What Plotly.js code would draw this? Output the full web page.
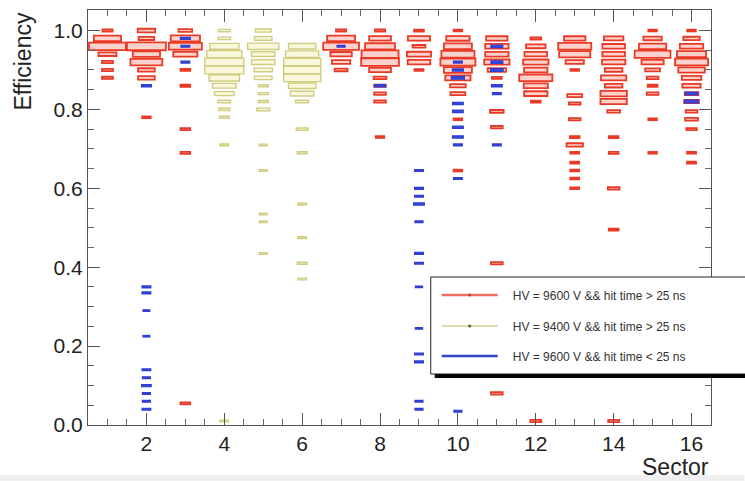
<!DOCTYPE html>
<html><head><meta charset="utf-8">
<script src="https://cdn.plot.ly/plotly-3.0.1.min.js"></script>
<style>html,body{margin:0;padding:0;background:#fff;}#chart{width:745px;height:481px;}</style>
</head><body><div id="chart"></div>
<script>
// ---- data ----
const sectors = [1,2,3,4,5,6,7,8,9,10,11,12,13,14,15,16];
const xTickVals = [2,4,6,8,10,12,14,16];
const yTickVals = [0,0.2,0.4,0.6,0.8,1.0];
const seriesNames = ["HV = 9600 V && hit time > 25 ns","HV = 9400 V && hit time > 25 ns","HV = 9600 V && hit time < 25 ns"];

// HV = 9600 V, hit time > 25 ns : efficiency bin centres and relative bin content per sector
const redEff = [
  [1.00,0.98,0.96,0.94,0.92,0.90,0.88],
  [1.00,0.98,0.96,0.94,0.92,0.90,0.88,0.78],
  [1.00,0.98,0.96,0.94,0.90,0.86,0.75,0.69,0.055],
  [], [], [],
  [1.00,0.98,0.96,0.94,0.92,0.90],
  [1.00,0.98,0.96,0.94,0.92,0.90,0.88,0.86,0.84,0.82,0.73],
  [1.00,0.98,0.96,0.94,0.92,0.90],
  [1.00,0.98,0.96,0.94,0.92,0.90,0.88,0.86,0.84,0.775,0.645],
  [0.98,0.96,0.94,0.92,0.90,0.88,0.795,0.755,0.41,0.08],
  [0.98,0.96,0.94,0.92,0.90,0.88,0.86,0.84,0.82,0.01],
  [0.98,0.96,0.94,0.92,0.90,0.835,0.815,0.775,0.73,0.71,0.69,0.665,0.645,0.625,0.60],
  [0.98,0.96,0.94,0.92,0.90,0.88,0.86,0.84,0.82,0.795,0.73,0.69,0.60,0.495,0.01],
  [1.00,0.98,0.96,0.94,0.92,0.90,0.88,0.86,0.84,0.775,0.69],
  [1.00,0.98,0.96,0.94,0.92,0.90,0.88,0.86,0.84,0.82,0.795,0.775,0.75,0.69,0.665]
];
const redContent = [
  [.26,.70,.95,.46,.28,.28,.28],
  [.45,.40,1.0,.70,.82,.43,.43,.22],
  [.35,.75,.85,.62,.25,.25,.25,.25,.25],
  [], [], [],
  [.26,.72,.92,.55,.47,.33],
  [.26,.56,.77,.95,.97,.56,.33,.30,.30,.30,.22],
  [.25,.57,.33,.62,.58,.23],
  [.22,.60,.72,.85,.90,.72,.65,.40,.38,.22,.22],
  [.55,.60,.60,.65,.47,.25,.35,.30,.30,.30],
  [.28,.50,.58,.65,.60,.85,.62,.60,.25,.28],
  [.55,.85,.80,.47,.22,.38,.30,.30,.25,.42,.23,.23,.23,.23,.23],
  [.50,.58,.58,.60,.45,.65,.45,.68,.68,.33,.25,.25,.30,.25,.28],
  [.22,.47,.70,.92,.57,.38,.30,.25,.30,.22,.22],
  [.22,.42,.60,.75,.85,.68,.50,.47,.35,.38,.30,.33,.27,.23,.23]
];

// HV = 9400 V, hit time > 25 ns
const yellowEff = [
  [], [], [],
  [1.00,0.98,0.96,0.94,0.92,0.90,0.88,0.86,0.84,0.82,0.80,0.78,0.71,0.01],
  [1.00,0.98,0.96,0.94,0.92,0.90,0.88,0.86,0.84,0.82,0.80,0.71,0.645,0.535,0.515,0.435],
  [0.96,0.94,0.92,0.90,0.88,0.86,0.84,0.82,0.75,0.69,0.56,0.475,0.41,0.37],
  [], [], [], [], [], [], [], [], [], []
];
const yellowContent = [
  [], [], [],
  [.30,.32,.75,.90,1.0,1.0,.78,.60,.50,.32,.28,.25,.22,.22],
  [.40,.45,.80,.60,.60,.47,.45,.25,.25,.25,.33,.20,.20,.20,.20,.20],
  [.70,.85,.95,.95,.95,.70,.60,.33,.30,.25,.22,.22,.25,.22],
  [], [], [], [], [], [], [], [], [], []
];

// HV = 9600 V, hit time < 25 ns
const blueEff = [
  [],
  [0.86,0.35,0.335,0.29,0.225,0.14,0.12,0.10,0.08,0.06,0.04],
  [0.98,0.96,0.92],
  [], [], [],
  [0.96],
  [0.86],
  [0.645,0.60,0.58,0.56,0.515,0.435,0.41,0.35,0.245,0.18,0.16,0.06,0.04],
  [0.92,0.90,0.88,0.815,0.795,0.755,0.73,0.71,0.625,0.035],
  [0.96,0.92,0.90,0.86,0.84,0.71],
  [], [], [], [],
  [0.84,0.82]
];
const blueContent = [
  [],
  [.25,.22,.22,.17,.17,.22,.20,.24,.20,.20,.22],
  [.25,.22,.22],
  [], [], [],
  [.20],
  [.28],
  [.22,.22,.22,.27,.20,.22,.22,.18,.18,.22,.22,.20,.20],
  [.22,.28,.33,.27,.27,.27,.27,.22,.22,.20],
  [.30,.30,.32,.27,.22,.22],
  [], [], [], [],
  [.32,.35]
];

// ---- styling / geometry constants ----
const BIN_X = 1.0, BIN_Y = 0.02;
const RED = 'rgb(232,58,38)', RED_FILL = 'rgba(246,140,120,0.38)';
const YEL = 'rgb(208,204,128)', YEL_FILL = 'rgba(246,244,196,0.6)';
const BLUE = 'rgb(45,62,212)', BLUE_FILL = 'rgba(45,62,212,0.9)';
const FONT = 'Liberation Sans, Arial, Helvetica, sans-serif';

function boxTrace(effs, contents, line, fill, lw) {
  const x = [], base = [], h = [], w = [];
  sectors.forEach((s, i) => {
    effs[i].forEach((e, j) => {
      const c = contents[i][j];
      x.push(s); w.push(c * BIN_X); h.push(c * BIN_Y); base.push(e - c * BIN_Y / 2);
    });
  });
  return {type: 'bar', x: x, y: h, base: base, width: w, orientation: 'v',
    marker: {color: fill, line: {color: line, width: lw}}, showlegend: false, hoverinfo: 'skip'};
}

const L = 88, R = 711.5, T = 10, B = 425, W = 745, H = 481;
const px = v => (v - L) / (R - L);
const py = v => (B - v) / (B - T);
const NB = '\u00a0\u00a0\u00a0';

const data = [
  boxTrace(redEff, redContent, RED, RED_FILL, 1.8),
  boxTrace(yellowEff, yellowContent, YEL, YEL_FILL, 1.4),
  boxTrace(blueEff, blueContent, BLUE, BLUE_FILL, 1.4),
  {type: 'scatter', mode: 'lines+markers', x: [null], y: [null], name: NB + seriesNames[0],
   line: {color: 'rgb(238,110,95)', width: 2.5}, marker: {color: 'rgb(200,60,50)', size: 3}, legend: 'legend'},
  {type: 'scatter', mode: 'lines+markers', x: [null], y: [null], name: NB + seriesNames[1],
   line: {color: 'rgb(222,220,170)', width: 2}, marker: {color: 'rgb(90,90,60)', size: 3}, legend: 'legend2'},
  {type: 'scatter', mode: 'lines', x: [null], y: [null], name: NB + seriesNames[2],
   line: {color: 'rgb(50,70,200)', width: 2.5}, legend: 'legend3'}
];

const legBase = {xanchor: 'left', yanchor: 'middle', bgcolor: 'rgba(0,0,0,0)', borderwidth: 0,
  font: {family: FONT, size: 12, color: '#333'}, itemwidth: 56, itemclick: false};

const layout = {
  width: W, height: H,
  margin: {l: L, r: W - R, t: T, b: H - B, pad: 0},
  paper_bgcolor: '#ffffff', plot_bgcolor: '#ffffff',
  barmode: 'overlay',
  font: {family: FONT, color: '#222'},
  xaxis: {range: [0.5, 16.5], tickvals: xTickVals, ticktext: xTickVals.map(String),
    ticks: 'inside', ticklen: 12, tickcolor: '#555', tickwidth: 1,
    showline: true, linecolor: '#555', linewidth: 1, mirror: 'allticks',
    showgrid: false, zeroline: false, tickfont: {size: 21, color: '#222'},
    minor: {dtick: 0.5, tick0: 0.5, ticks: 'inside', ticklen: 6, tickcolor: '#666', showgrid: false}},
  yaxis: {range: [0, 1.052], tickvals: yTickVals, tickformat: '.1f',
    ticks: 'inside', ticklen: 12, tickcolor: '#555', tickwidth: 1,
    showline: true, linecolor: '#555', linewidth: 1, mirror: 'allticks',
    showgrid: false, zeroline: false, tickfont: {size: 21, color: '#222'},
    minor: {dtick: 0.05, tick0: 0, ticks: 'inside', ticklen: 6, tickcolor: '#666', showgrid: false}},
  legend: Object.assign({x: px(437), y: py(295)}, legBase),
  legend2: Object.assign({x: px(437), y: py(326)}, legBase),
  legend3: Object.assign({x: px(437), y: py(356)}, legBase),
  shapes: [
    {type: 'rect', xref: 'paper', yref: 'paper', x0: px(435), x1: px(770), y0: py(378), y1: py(281),
     fillcolor: '#000', line: {width: 0}, layer: 'above'},
    {type: 'rect', xref: 'paper', yref: 'paper', x0: px(431), x1: px(766), y0: py(374), y1: py(277),
     fillcolor: '#fff', line: {color: '#222', width: 1}, layer: 'above'},
    {type: 'rect', xref: 'paper', yref: 'paper', x0: px(0), x1: px(745), y0: py(475), y1: py(490),
     fillcolor: '#f0f0f0', line: {width: 0}, layer: 'below'}
  ],
  annotations: [
    {text: 'Efficiency', xref: 'paper', yref: 'paper', x: px(22), y: py(10), xanchor: 'center', yanchor: 'top',
     textangle: -90, showarrow: false, font: {family: FONT, size: 23, color: '#222'}},
    {text: 'Sector', xref: 'paper', yref: 'paper', x: px(711), y: py(467), xanchor: 'right', yanchor: 'middle',
     showarrow: false, font: {family: FONT, size: 23, color: '#222'}}
  ]
};

Plotly.newPlot('chart', data, layout, {displayModeBar: false, staticPlot: true});
</script>
</body></html>
